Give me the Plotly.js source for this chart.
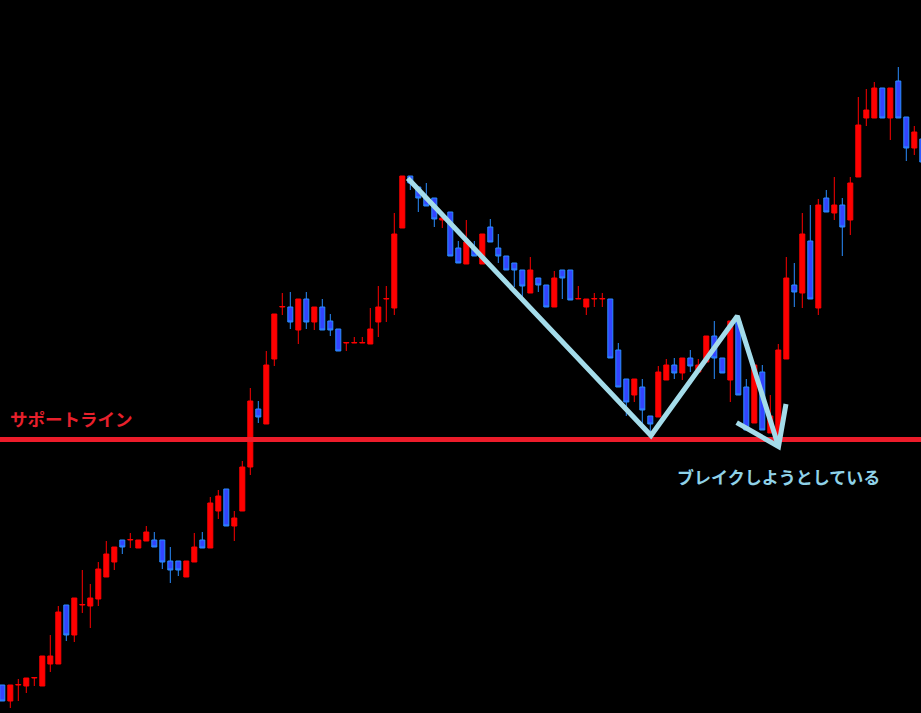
<!DOCTYPE html>
<html>
<head>
<meta charset="utf-8">
<script src="https://cdn.plot.ly/plotly-3.0.1.min.js"></script>
<style>
html,body{margin:0;padding:0;background:#000;}
#chart{width:921px;height:713px;}
</style>
</head>
<body>
<div id="chart"></div>
<script>
// Candle index (bar number)
const bars = Array.from({length: 116}, (_, i) => i);

const openP = [28,12,28,27,35,27,49,49,108,78,108,107,114,136,151,173,173,165,172,173,
173,152,152,136,151,173,165,202,224,187,202,246,304,289,354,406,406,383,414,391,
406,392,384,370,370,370,369,391,414,405,485,537,526,515,515,493,501,465,449,464,
449,486,465,457,450,443,420,435,428,406,443,443,414,406,414,414,414,363,334,318,
326,297,296,333,348,340,355,341,351,377,355,333,392,326,290,341,280,273,354,428,
420,472,405,515,500,508,493,536,595,595,625,595,632,596,565,574];

const highP = [28,28,34,35,35.5,57,78,107,108,115,143,129,151,172,166,173,180,173,187,181,
173,166,152,152,180,181,216,223,224,202,252,325,312,362,399,420,421,414,421,406,
414,399,384,370.5,376,376,405,427,427,500,537,537,526,530,515,495,501,472,493,472,
479,494,479,457,450,443,456,435,428,442,443,443,427,414,420,420,414,370,334,334,
334,297,347,354,355,355,363,354,377,392,355,392,392,334,348,348,318,369,456,450,
500,508,514,523,536,515,536,616,624,631,625,625,646,596,587,574];

const lowP = [12,5,12,20,27,27,41,49,72,71,100,85,107,136,143,159,165,165,172,166,
144,130,137,136,151,165,165,194,187,172,202,238,290,289,347,398,384,369,384,383,
383,377,362,362,370,370,369,376,391,398,485,523,501,507,486,485,457,450,449,457,
449,471,450,443,426,416,420,421,406,406,414,413,414,398,406,406,355,326,297,311,
284,278,296,333,334,333,341,340,351,334,340,311,318,283,290,283,280,268,354,406,
405,414,398,501,493,457,478,536,587,595,595,573,595,552,558,551];

const closeP = [12,28,28.5,35,35.5,57,57,101,78,115,108.5,115,144,159,166,166,173.5,173,181,166,
151,143,143,152,166,165,210,217,187,195,246,312,296,348,399,406.5,391,414,391,406,
383,383,362,370.5,370.5,370.5,384,406,414.5,479,537,530,515,507,494,495,457,450,471,457,
479,471,457,443,443,427,443,428,406,435,435,413,414.5,414,414.5,414.5,355,326,311,334,
303,289,341,348,340,355,347,348,377,355,340,392,318,283,348,283,297,363,435,421,
479,414,508,501,508,486,530,588,603,625,595,625,595,565,581,551];

// Support level and the drawn zigzag with its arrow head (bar index, price)
const supportLevel = 273.5;
const zigzagBars   = [50.68, 81.09, 91.88, 97.03];
const zigzagPrices = [534.7, 277.5, 397, 266.5];
const arrowBars    = [91.8, 97.03, 97.96];
const arrowPrices  = [290.3, 266.5, 309];

const supportText = "サポートライン";
const breakText = "ブレイクしようとしている";

const traces = [
  {
    type: 'candlestick',
    x: bars, open: openP, high: highP, low: lowP, close: closeP,
    increasing: {line: {color: '#ff0000', width: 1}, fillcolor: '#ff0000'},
    decreasing: {line: {color: '#2a8cff', width: 1}, fillcolor: '#3344ff'},
    whiskerwidth: 0,
    hoverinfo: 'skip'
  },
  {
    type: 'scatter', mode: 'lines',
    x: [-2, 118], y: [supportLevel, supportLevel],
    line: {color: '#ec1c2a', width: 5},
    hoverinfo: 'skip'
  },
  {
    type: 'scatter', mode: 'lines',
    x: zigzagBars, y: zigzagPrices,
    line: {color: '#a4dcea', width: 5},
    hoverinfo: 'skip'
  },
  {
    type: 'scatter', mode: 'lines',
    x: arrowBars, y: arrowPrices,
    line: {color: '#a4dcea', width: 5},
    hoverinfo: 'skip'
  }
];

const layout = {
  width: 921, height: 713,
  margin: {l: 0, r: 0, t: 0, b: 0, pad: 0},
  paper_bgcolor: '#000000',
  plot_bgcolor: '#000000',
  showlegend: false,
  boxgap: 0.375,
  boxgroupgap: 0,
  xaxis: {range: [-0.2875, 114.8375], visible: false, rangeslider: {visible: false}, fixedrange: true},
  yaxis: {range: [0, 713], visible: false, fixedrange: true},
  annotations: [
    {
      text: supportText, xref: 'paper', yref: 'paper',
      x: 8/921, y: (713-418)/713, xanchor: 'left', yanchor: 'middle',
      showarrow: false,
      font: {family: 'Noto Sans CJK JP', size: 17.5, color: '#e8202c', weight: 'bold'}
    },
    {
      text: breakText, xref: 'paper', yref: 'paper',
      x: 675/921, y: (713-476)/713, xanchor: 'left', yanchor: 'middle',
      showarrow: false,
      font: {family: 'Noto Sans CJK JP', size: 17, color: '#8fd2e8', weight: 'bold'}
    }
  ]
};

Plotly.newPlot('chart', traces, layout, {staticPlot: true, displayModeBar: false});
</script>
</body>
</html>
